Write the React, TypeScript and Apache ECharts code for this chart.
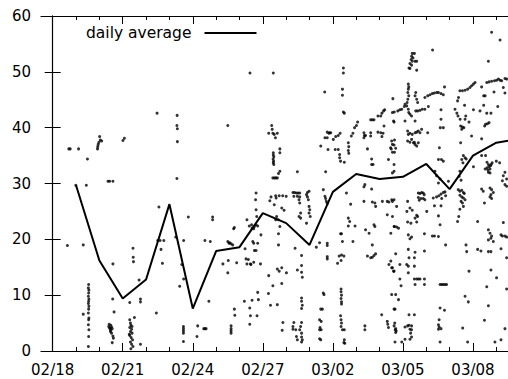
import React, { useEffect, useRef } from "react";
import * as echarts from "echarts";

// day 0 = 02/18 (2009, Feb has 28 days)
const startDateUTC = Date.UTC(2009, 1, 18);
const xMinDay = -0.5;
const xMaxDay = 19.5;
const majorTickDays = [0, 3, 6, 9, 12, 15, 18];
const minorTickDays = [0, 1, 2, 3, 4, 5, 6, 7, 8, 9, 10, 11, 12, 13, 14, 15, 16, 17, 18, 19];
const yMin = 0;
const yMax = 60;
const yStep = 10;

// daily average (one value per day, day 1 = 02/19)
const avgDays = [1, 2, 3, 4, 5, 6, 7, 8, 9, 10, 11, 12, 13, 14, 15, 16, 17, 18, 19, 20];
const avgValues = [29.7, 16.2, 9.4, 12.8, 26.3, 7.6, 17.9, 18.6, 24.7, 22.9, 19.0, 28.5, 31.7, 30.8, 31.2, 33.5, 29.0, 35.0, 37.3, 38.0];

// individual samples [day, value]
const samplesWeek1: [number, number][] = [
  [0.69, 36.2], [0.75, 36.2], [1.11, 36.2], [1.49, 34.4],
  [2.01, 38.4], [2.04, 37.8], [2.1, 37.6], [1.98, 37.4], [1.95, 37.0], [1.93, 36.6], [1.92, 36.2],
  [3.07, 38.1], [3.01, 37.7], [2.37, 30.4], [2.44, 30.4], [2.58, 30.4], [0.99, 29.7], [1.44, 29.7],
  [0.63, 18.9], [1.31, 19.0],
  [1.54, 11.9], [1.53, 11.3], [1.55, 10.9], [1.54, 10.4], [1.53, 9.8], [1.55, 9.3], [1.54, 8.9], [1.53, 8.5],
  [1.55, 8.0], [1.54, 7.5], [1.53, 6.8], [1.55, 5.9], [1.54, 5.6], [1.53, 4.7], [1.55, 3.8], [1.54, 2.6], [1.53, 0.8],
  [1.31, 6.6], [2.58, 15.6], [2.57, 9.3], [2.63, 7.0],
  [2.42, 4.8], [2.49, 4.6], [2.52, 4.3], [2.46, 4.0], [2.55, 4.0], [2.49, 3.7], [2.4, 4.4], [2.52, 3.2],
  [2.58, 2.7], [2.6, 2.3], [2.47, 3.5], [2.55, 1.5], [2.44, 4.1],
  [3.3, 8.7],
  [3.3, 5.6], [3.33, 5.0], [3.35, 4.6], [3.3, 4.2], [3.38, 3.9], [3.33, 3.5], [3.4, 3.2], [3.3, 2.8],
  [3.36, 2.4], [3.42, 2.0], [3.33, 1.6], [3.38, 1.2], [3.44, 0.8], [3.35, 0.4], [3.4, 4.4], [3.28, 3.0],
  [3.44, 18.4], [3.45, 16.8], [3.46, 16.0], [3.7, 12.7], [3.76, 9.3], [3.76, 8.8], [3.5, 6.0], [3.76, 1.2],
  [4.44, 6.8], [4.55, 25.8], [4.47, 42.6],
  [4.5, 19.8], [4.6, 19.8], [4.76, 19.8], [4.64, 18.2], [4.7, 15.7],
  [5.27, 20.4], [5.61, 19.8], [5.81, 24.0], [5.53, 15.5], [5.61, 12.9], [5.44, 11.6], [6.69, 8.9],
  [5.6, 4.4], [5.6, 4.0], [5.6, 3.6], [5.6, 3.2], [5.6, 1.7],
  [6.21, 4.5], [6.18, 2.6], [6.47, 4.0], [6.52, 4.0], [6.57, 4.0],
  [6.85, 24.0], [6.85, 23.5], [6.52, 19.8], [6.75, 19.6],
  [5.33, 42.2], [5.32, 40.4], [5.34, 39.8], [5.34, 37.5], [5.32, 30.9],
];

const samplesWeek2: [number, number][] = [
  [7.29, 15.6], [7.52, 16.2], [7.5, 14.0], [7.5, 19.6], [7.58, 19.4], [7.64, 19.2], [7.71, 19.0], [7.55, 19.3],
  [7.75, 21.9], [7.78, 22.1], [7.78, 7.5], [7.8, 6.4], [7.64, 4.5], [7.64, 4.0], [7.64, 3.6], [7.64, 3.2],
  [7.88, 15.8], [8.21, 8.9], [8.44, 7.7], [8.44, 4.8], [8.24, 18.3],
  [8.28, 16.5], [8.38, 16.4], [8.32, 15.6], [8.47, 15.6], [8.61, 15.9], [8.64, 18.0], [8.71, 18.0], [8.9, 15.6], [8.49, 15.5],
  [8.32, 23.5], [8.42, 22.4], [8.52, 22.6], [8.64, 22.3], [8.71, 22.6], [8.78, 22.4], [8.54, 22.0], [8.61, 21.9],
  [8.71, 28.3], [8.69, 27.1], [8.71, 25.3], [8.74, 24.1], [8.57, 19.6], [8.61, 19.3], [8.78, 19.3],
  [8.78, 10.5], [8.81, 9.2], [8.75, 6.3], [8.47, 6.3], [8.54, 9.1],
  [9.25, 13.5], [9.43, 11.7], [9.24, 10.3], [9.33, 8.2],
  [9.35, 27.6], [9.57, 27.4], [9.49, 26.2], [9.3, 26.9], [9.59, 24.1], [8.92, 20.8],
  [8.45, 49.8], [9.45, 49.8], [7.5, 40.4],
  [9.38, 40.4], [9.4, 39.7], [9.25, 39.0], [9.43, 39.0], [9.49, 38.8], [9.54, 38.2],
  [9.45, 35.5], [9.45, 35.1], [9.47, 34.8], [9.44, 34.4], [9.46, 34.0], [9.45, 33.7], [9.47, 33.4],
  [9.43, 31.0], [9.5, 31.0], [9.56, 31.0],
  [12.45, 50.7], [12.45, 49.8], [12.41, 46.9], [12.41, 45.8], [12.45, 42.8], [12.49, 42.6], [11.65, 46.4],
  [9.62, 39.0], [9.73, 36.2], [9.73, 35.5], [9.73, 32.2], [9.67, 31.8], [9.62, 31.0],
  [10.48, 32.1], [11.69, 32.1], [11.48, 36.7],
  [11.76, 39.2], [11.86, 39.1], [11.66, 38.2], [11.76, 38.2], [11.83, 39.0], [11.91, 39.1],
  [12.02, 37.9], [12.12, 38.4], [12.23, 38.6], [12.31, 39.0],
  [11.79, 36.1], [12.1, 36.1], [12.23, 36.1], [12.29, 35.2], [12.29, 34.6], [12.33, 34.0], [12.49, 33.8],
  [12.66, 37.3], [12.68, 36.6], [12.66, 35.9], [12.68, 35.4],
  [12.79, 38.5], [12.86, 39.0], [12.93, 40.0], [13.01, 40.4], [13.06, 41.0],
  [10.29, 28.4], [10.36, 28.4], [10.44, 28.3], [10.51, 28.3], [10.58, 28.3], [10.33, 27.7], [10.48, 27.7],
  [10.58, 27.6], [10.55, 27.1], [10.91, 28.4], [10.98, 28.6], [10.87, 28.0], [10.91, 27.6], [10.95, 27.1],
  [9.55, 27.8], [9.7, 27.8], [9.85, 27.8], [10.0, 27.7], [9.81, 25.6], [9.91, 25.2],
  [10.58, 26.5], [10.62, 24.7], [10.55, 24.1], [10.62, 23.8],
  [10.98, 25.9], [11.01, 25.3], [10.98, 24.7], [11.03, 24.1],
  [9.55, 23.5], [9.66, 23.5], [9.73, 22.3], [9.67, 21.0], [9.67, 19.0],
  [10.87, 22.9], [10.38, 18.4], [10.66, 17.1], [11.43, 19.4], [11.76, 19.3], [11.76, 18.9],
  [11.59, 28.9], [11.29, 18.6], [11.76, 16.9], [11.76, 16.5],
  [9.62, 14.7], [9.81, 14.9], [9.7, 14.3], [10.01, 14.0],
  [10.48, 14.5], [10.66, 15.3], [10.66, 14.1], [10.69, 13.2], [9.81, 12.1], [9.62, 8.3],
  [10.66, 9.5], [10.66, 8.9], [10.69, 8.2], [10.66, 7.6],
  [12.35, 11.1], [12.35, 10.6], [12.37, 10.0], [12.35, 9.4], [12.37, 8.8], [12.37, 8.4],
  [12.27, 17.0], [12.37, 17.2], [12.47, 17.0], [12.2, 15.7], [12.35, 16.2],
  [11.62, 10.1], [11.59, 10.4], [11.55, 7.5], [11.48, 7.5],
  [12.33, 21.0], [12.37, 21.0], [12.41, 19.6], [12.86, 19.6],
  [12.66, 23.8], [12.72, 23.2], [12.76, 26.3], [12.66, 22.4], [12.95, 22.4], [12.58, 28.3],
  [12.33, 6.3], [12.35, 5.6], [12.37, 5.0], [12.35, 4.4], [12.41, 3.8], [12.49, 3.8],
  [12.49, 2.0], [12.51, 1.4], [12.47, 1.5],
  [11.43, 5.6], [11.5, 5.3], [11.45, 4.2], [11.43, 3.8], [11.5, 3.8], [11.43, 2.2], [11.48, 2.0],
  [9.86, 5.1], [9.83, 3.7], [10.29, 4.4], [10.29, 3.9], [10.33, 5.1], [10.41, 3.8], [10.44, 2.6], [10.48, 2.0],
  [10.58, 3.8], [10.62, 4.4], [10.66, 5.1], [10.66, 3.2], [10.66, 2.5], [10.69, 2.0], [10.66, 1.6],
  [11.66, 27.7], [11.69, 27.3], [11.72, 26.8], [11.76, 26.4],
];

const samplesWeek3: [number, number][] = [
  [13.37, 29.8], [13.33, 29.4], [13.66, 29.0],
  [13.33, 26.8], [13.69, 26.7], [13.8, 26.5], [13.83, 25.9], [13.8, 22.3], [13.76, 22.6], [13.4, 21.7], [13.55, 21.1],
  [13.69, 19.0], [13.48, 17.0], [13.62, 16.7], [13.69, 16.8], [13.76, 17.1], [13.83, 17.4],
  [14.12, 26.8], [14.33, 26.8], [14.4, 26.7], [14.55, 26.8], [14.62, 27.1],
  [14.33, 24.4], [14.55, 24.1], [14.62, 22.3], [14.48, 21.1],
  [14.4, 15.5], [14.48, 16.1], [14.55, 14.9], [14.62, 14.3], [14.69, 10.1], [14.62, 7.5],
  [14.33, 5.3], [14.35, 4.8], [14.38, 4.2], [14.65, 5.0], [14.67, 3.8], [13.37, 4.5], [13.37, 3.8], [14.09, 6.5],
  [13.33, 39.1], [13.35, 38.6], [13.33, 38.2], [13.4, 38.6], [13.62, 39.1], [13.62, 38.5],
  [13.48, 36.2], [13.62, 41.4], [13.69, 41.4], [13.76, 41.4], [13.66, 34.4], [13.72, 33.4], [13.66, 33.4],
  [13.93, 42.1], [14.05, 42.1], [14.1, 42.6], [14.17, 43.0], [14.22, 43.2],
  [13.93, 39.2], [14.05, 39.1], [14.15, 39.0], [14.1, 38.4], [14.19, 40.3], [14.38, 34.3],
  [14.55, 42.7], [14.57, 45.2], [14.6, 41.2], [14.62, 41.0],
  [14.52, 37.6], [14.55, 37.0], [14.5, 36.2], [14.55, 35.6], [14.62, 33.4],
  [18.8, 57.1], [19.16, 55.7], [16.27, 53.9], [18.66, 51.9],
  [15.4, 53.3], [15.49, 53.3], [15.37, 52.8], [15.43, 52.5], [15.35, 52.2], [15.4, 51.9], [15.52, 51.9],
  [15.59, 51.9], [15.3, 51.5], [15.37, 51.2], [15.26, 50.7], [15.3, 50.6], [15.59, 50.3],
  [15.23, 47.8], [15.25, 47.3], [15.23, 46.9], [15.21, 46.3], [15.25, 45.7], [15.21, 45.1],
  [15.18, 44.5], [15.16, 43.9], [15.23, 43.3], [15.25, 42.7],
  [14.63, 42.8], [14.78, 43.0], [14.87, 43.2], [14.95, 43.3], [15.06, 43.8], [15.09, 44.2],
  [15.55, 46.3], [15.52, 45.7], [15.59, 45.1], [15.63, 44.5],
  [15.94, 45.4], [16.06, 45.7], [16.16, 45.9], [16.26, 46.1], [16.35, 46.2], [16.45, 46.3], [16.52, 46.3], [16.63, 46.1], [16.73, 45.9],
  [15.55, 43.0], [15.63, 43.0], [15.73, 43.1], [15.83, 43.3], [15.94, 43.3], [16.09, 43.8], [15.3, 42.4], [15.37, 42.1],
  [16.78, 47.3],
  [17.44, 46.6], [17.55, 46.6], [17.66, 46.7], [17.77, 46.9], [17.87, 47.2], [17.94, 47.5], [18.02, 47.8], [18.09, 48.1],
  [18.37, 47.3],
  [18.59, 48.1], [18.69, 48.2], [18.8, 48.3], [18.92, 48.4], [19.01, 48.5], [19.09, 48.7], [19.16, 48.5], [19.23, 48.4], [19.37, 48.8], [19.44, 48.7],
  [19.3, 47.2], [19.37, 46.2], [18.9, 46.4], [18.46, 45.7], [18.52, 45.7],
  [17.34, 44.8], [17.38, 45.4], [17.64, 44.0], [18.02, 43.2], [18.3, 43.0], [18.59, 42.6], [18.77, 42.6], [19.06, 43.8], [18.46, 44.0],
  [16.63, 43.2], [17.23, 43.3], [17.31, 42.6], [17.36, 42.1], [17.69, 42.1], [17.66, 41.5], [17.45, 41.5],
  [15.09, 41.2], [15.52, 41.2], [16.63, 41.5], [16.6, 40.0], [16.73, 40.0],
  [17.47, 40.3], [17.55, 40.1], [17.52, 39.7], [17.61, 40.0], [17.83, 41.0],
  [18.54, 40.6], [18.62, 40.7], [18.69, 40.9], [18.5, 40.3], [18.37, 38.0],
  [14.64, 37.8], [14.62, 36.9], [14.69, 36.3], [14.47, 36.4], [14.64, 35.6],
  [15.2, 39.4], [15.23, 38.8], [15.3, 39.0], [15.4, 38.8], [15.52, 39.1], [15.59, 39.2], [15.66, 39.4], [15.73, 39.1], [15.8, 39.7], [16.06, 39.1],
  [15.2, 37.6], [15.3, 37.4], [15.37, 37.9], [15.45, 37.3], [15.52, 37.0], [15.49, 37.4], [15.59, 36.7], [15.66, 37.3],
  [16.56, 36.4], [16.52, 34.3], [16.65, 34.3], [16.73, 34.0], [17.47, 37.3], [17.94, 38.5],
  [17.59, 35.0], [17.66, 34.6], [17.52, 34.3], [17.57, 33.7], [17.71, 34.4], [18.37, 35.0], [18.54, 35.0], [18.02, 33.0],
  [18.6, 33.8], [18.66, 33.4], [18.69, 33.0], [18.73, 32.6], [18.75, 33.2], [18.64, 32.4], [18.66, 32.0],
  [18.73, 31.9], [18.82, 33.7], [18.78, 33.4], [18.6, 32.8], [18.52, 32.6],
  [19.0, 34.0], [19.14, 33.7], [19.3, 31.4], [19.37, 32.0], [19.26, 30.5], [19.44, 30.8],
  [14.62, 32.2], [14.55, 31.9], [16.37, 32.2], [16.44, 31.4], [16.59, 30.8], [16.52, 30.1], [16.95, 30.4],
  [17.44, 32.2], [17.41, 31.3], [17.49, 30.6],
  [15.66, 28.3], [15.73, 28.2], [15.8, 28.4], [15.87, 28.3], [15.91, 28.0], [15.66, 27.5], [15.77, 27.3], [15.87, 27.3], [15.94, 27.1], [15.7, 27.0],
  [16.3, 27.4], [16.44, 27.6], [16.54, 27.8], [16.63, 28.1], [16.73, 28.4], [16.8, 28.5], [16.83, 27.8], [16.66, 27.3],
  [17.37, 28.9], [17.44, 28.6], [17.52, 28.8], [17.59, 28.4], [17.63, 28.2], [17.44, 27.9], [17.52, 27.6],
  [17.59, 27.4], [17.66, 27.1], [17.49, 26.8], [17.55, 26.5], [17.59, 25.9], [17.44, 25.4],
  [18.37, 29.0], [18.44, 28.6], [18.73, 29.2], [18.8, 28.9], [18.87, 28.4], [18.77, 28.0], [18.73, 27.6], [18.8, 27.3],
  [19.37, 29.8], [19.44, 29.5],
  [14.52, 27.1], [14.73, 25.9], [15.2, 26.8], [15.3, 25.6], [15.4, 25.2],
  [15.17, 25.0], [15.59, 24.3], [15.63, 24.1], [15.52, 23.8], [15.59, 23.1], [15.2, 23.1], [15.34, 22.9],
  [16.02, 25.0], [16.35, 26.0], [16.52, 24.2], [16.63, 26.0],
  [14.64, 22.3], [14.73, 22.2], [14.81, 22.0],
  [16.59, 22.6], [17.39, 24.1], [17.34, 23.2], [18.2, 23.2], [18.49, 26.5], [19.3, 23.0],
  [18.66, 21.7], [18.73, 21.1], [18.8, 20.6], [18.77, 20.2], [18.66, 19.9], [18.87, 19.6],
  [19.2, 20.8], [19.26, 20.6], [19.37, 20.6], [19.44, 20.4],
  [15.23, 20.8], [15.37, 20.4], [15.3, 20.1], [15.92, 21.0], [16.26, 20.6], [16.35, 20.6], [16.52, 20.5],
  [16.83, 19.0], [17.7, 19.0], [17.73, 17.8], [18.2, 18.2], [18.34, 17.9], [18.66, 17.8], [18.77, 17.8], [19.2, 18.3],
  [14.69, 17.4], [15.23, 18.2], [15.52, 17.7], [15.92, 17.9], [15.26, 16.7], [15.49, 16.7],
  [14.87, 15.5], [15.16, 15.5], [15.23, 15.2], [15.49, 15.2], [14.52, 14.9], [14.6, 14.3], [15.23, 14.0],
  [15.49, 12.9], [15.59, 12.9], [15.66, 12.9], [15.73, 12.9], [15.92, 12.9], [14.87, 12.9], [14.92, 11.7],
  [15.52, 11.9], [15.92, 11.9],
  [16.59, 11.9], [16.66, 11.9], [16.73, 11.9], [16.8, 11.9], [16.87, 11.9],
  [17.83, 14.3], [18.77, 14.5], [19.01, 13.1], [19.44, 16.7], [19.44, 11.1],
  [18.59, 11.5], [17.66, 9.8], [17.8, 8.8], [14.81, 9.2], [14.52, 10.1], [18.66, 8.1],
  [14.66, 7.5], [16.59, 7.7], [16.78, 7.3], [15.26, 6.5], [15.49, 6.5], [16.55, 5.6], [18.49, 5.5],
  [14.62, 4.5], [14.69, 4.0], [14.71, 3.6], [14.69, 3.3],
  [15.09, 4.3], [15.2, 4.5], [15.26, 4.6], [15.37, 4.5], [15.3, 3.9], [15.37, 3.8], [15.33, 3.2], [15.37, 2.5], [15.3, 2.1], [15.09, 2.1], [14.95, 1.6],
  [16.52, 4.7], [16.55, 4.3], [16.63, 4.0], [16.52, 3.9], [17.56, 4.1],
  [14.66, 1.6], [16.59, 1.6], [17.77, 1.6], [18.94, 1.6], [19.2, 2.0], [19.37, 4.0],
];

const FONT = "DejaVu Sans";

function dayLabel(day: number): string {
  const d = new Date(startDateUTC + Math.round(day) * 86400000);
  const mm = String(d.getUTCMonth() + 1).padStart(2, "0");
  const dd = String(d.getUTCDate()).padStart(2, "0");
  return `${mm}/${dd}`;
}

export default function App() {
  const ref = useRef<HTMLDivElement>(null);

  useEffect(() => {
    if (!ref.current) return;
    const chart = echarts.init(ref.current, null, { renderer: "svg" });

    const black = "#000";
    const xBase = {
      type: "value" as const,
      min: xMinDay,
      max: xMaxDay,
      splitLine: { show: false },
    };

    chart.setOption({
      animation: false,
      backgroundColor: "#fff",
      grid: { left: 41, right: 0, top: 16, bottom: 28, containLabel: false },
      legend: {
        data: ["daily average"],
        left: 86,
        top: 25,
        padding: 0,
        align: "right",
        icon: "rect",
        itemWidth: 52,
        itemHeight: 2,
        textStyle: { fontFamily: FONT, fontSize: 15.5, color: black, padding: [0, 8, 0, 0] },
      },
      xAxis: [
        {
          ...xBase,
          position: "bottom",
          axisLine: { show: true, lineStyle: { color: black, width: 1.2 } },
          axisTick: { show: true, inside: true, length: 8, customValues: majorTickDays, lineStyle: { color: black } },
          axisLabel: {
            customValues: majorTickDays,
            formatter: (v: number) => dayLabel(v),
            margin: 11,
            color: black,
            fontFamily: FONT,
            fontSize: 15,
          },
        },
        {
          ...xBase,
          position: "bottom",
          axisLine: { show: false },
          axisTick: { show: true, inside: true, length: 4, customValues: minorTickDays, lineStyle: { color: black } },
          axisLabel: { show: false },
        },
        {
          ...xBase,
          position: "top",
          axisLine: { show: true, lineStyle: { color: black, width: 1.2 } },
          axisTick: { show: true, inside: true, length: 8, customValues: majorTickDays, lineStyle: { color: black } },
          axisLabel: { show: false },
        },
        {
          ...xBase,
          position: "top",
          axisLine: { show: false },
          axisTick: { show: true, inside: true, length: 4, customValues: minorTickDays, lineStyle: { color: black } },
          axisLabel: { show: false },
        },
      ],
      yAxis: [
        {
          type: "value",
          position: "left",
          min: yMin,
          max: yMax,
          interval: yStep,
          splitLine: { show: false },
          axisLine: { show: true, lineStyle: { color: black, width: 1.2 } },
          axisTick: { show: true, inside: true, length: 8, lineStyle: { color: black } },
          axisLabel: { margin: 10, color: black, fontFamily: FONT, fontSize: 15 },
        },
        {
          type: "value",
          position: "right",
          min: yMin,
          max: yMax,
          interval: yStep,
          splitLine: { show: false },
          axisLine: { show: true, lineStyle: { color: black, width: 1 } },
          axisTick: { show: true, inside: true, length: 8, lineStyle: { color: black } },
          axisLabel: { show: false },
        },
      ],
      series: [
        {
          name: "samples",
          type: "scatter",
          xAxisIndex: 0,
          yAxisIndex: 0,
          symbol: "circle",
          symbolSize: 3,
          itemStyle: { color: black },
          data: [...samplesWeek1, ...samplesWeek2, ...samplesWeek3],
          silent: true,
        },
        {
          name: "daily average",
          type: "line",
          xAxisIndex: 0,
          yAxisIndex: 0,
          symbol: "none",
          clip: true,
          color: black,
          lineStyle: { color: black, width: 2 },
          itemStyle: { color: black },
          data: avgDays.map((d, i) => [d, avgValues[i]]),
          z: 3,
        },
      ],
    });

    return () => chart.dispose();
  }, []);

  return (
    <div
      ref={ref}
      style={{ position: "fixed", left: 0, top: 0, width: 508, height: 379, background: "#fff" }}
    />
  );
}
